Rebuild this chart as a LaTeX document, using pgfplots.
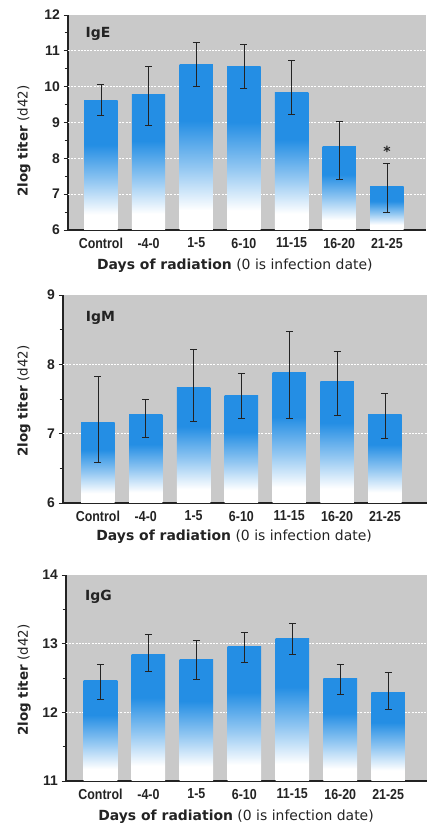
\documentclass[border=0pt]{standalone}
\usepackage{pgfplots}
\pgfplotsset{compat=1.18}
\usepackage{pgfplotstable}
\usepackage{fontspec}
\setmainfont{DejaVu Sans}
\newfontfamily\cond{Liberation Sans}[FakeStretch=0.86]
\newfontfamily\libs{Liberation Sans}

\definecolor{barblue}{RGB}{36,142,228}
\definecolor{bggray}{RGB}{201,201,201}
\definecolor{axdark}{RGB}{35,35,35}
\pgfdeclareverticalshading{barshade}{100bp}{color(0bp)=(white); color(31bp)=(white); color(44bp)=(barblue!50!white); color(58bp)=(barblue); color(100bp)=(barblue)}

\pgfplotstableread{
x y ep em
0 9.60 0.45 0.39
1 9.77 0.79 0.86
2 10.62 0.62 0.60
3 10.56 0.62 0.61
4 9.83 0.91 0.60
5 8.34 0.68 0.93
6 7.22 0.63 0.72
}\dataE
\pgfplotstableread{
x y ep em
0 7.165 0.655 0.58
1 7.283 0.212 0.339
2 7.67 0.546 0.491
3 7.552 0.311 0.335
4 7.877 0.597 0.66
5 7.75 0.438 0.481
6 7.278 0.297 0.348
}\dataM
\pgfplotstableread{
x y ep em
0 12.458 0.245 0.274
1 12.84 0.30 0.24
2 12.764 0.283 0.284
3 12.958 0.206 0.236
4 13.075 0.221 0.235
5 12.495 0.208 0.231
6 12.292 0.288 0.245
}\dataG

\newcommand{\xlab}{\fontsize{14}{14}\selectfont\textbf{Days of radiation} (0 is infection date)}
\newcommand{\ylab}{\fontsize{13.5}{13.5}\selectfont\textbf{2log titer} (d42)}

\pgfplotsset{
  panel/.style={
    scale only axis, anchor=south west,
    axis x line=bottom, axis y line=left,
    axis line style={-, line width=1.1bp, axdark},
    axis background/.style={fill=bggray},
    xtick={0,...,6},
    xticklabels={Control,-4-0,1-5,6-10,11-15,16-20,21-25},
    x tick style={draw=none},
    xticklabel style={font=\cond\bfseries\fontsize{14.5}{14.5}\selectfont, text=axdark},
    yticklabel style={font=\libs\bfseries\fontsize{14}{14}\selectfont, text=axdark},
    /pgf/number format/assume math mode=true,
    minor y tick num=1,
    tick align=outside, major tick length=4.5bp, minor tick length=3.5bp,
    y tick style={axdark, line width=0.9bp},
    major grid style={white, line width=1.1bp, dash pattern=on 2bp off 1.2bp},
    extra y tick style={grid=major, major tick length=0pt, yticklabel=\empty},
    xlabel={\xlab},
    xlabel style={text=axdark, anchor=center},
    ylabel={\ylab},
    ylabel style={text=axdark, anchor=center},
    clip=false,
  },
  bars/.style={ybar, bar shift=0pt, bar width=0.7, draw=none, shade, shading=barshade,
    restrict x to domain=#1:#1},
  errs/.style={draw=none, mark=none, forget plot,
    error bars/.cd, y dir=both, y explicit,
    error bar style={draw=axdark, line width=0.75bp},
    error mark options={rotate=90, draw=axdark, mark size=3.5bp, line width=0.75bp}},
}

\begin{document}
\begin{tikzpicture}
\path[use as bounding box] (0,0) rectangle (427bp,824bp);

% IgE
\begin{axis}[panel, at={(68bp,594bp)}, width=358bp, height=215bp,
  xmin=-0.69, xmax=6.82, ymin=6, ymax=12, ytick={6,...,12},
  extra y ticks={7,8,9,10,11},
  xlabel style={at={(axis description cs:0.466,-0.167)}},
  ylabel style={at={(axis description cs:-0.123,0.414)}}]
\pgfplotsinvokeforeach{0,...,6}{
  \addplot[bars=#1] table[x=x,y=y] {\dataE};
}
\addplot[errs] table[x=x,y=y,y error plus=ep,y error minus=em] {\dataE};
\node[font=\bfseries\fontsize{14}{14}\selectfont, text=axdark] at (axis description cs:0.084,0.912) {IgE};
\node[font=\bfseries\fontsize{14}{14}\selectfont, text=axdark] at (axis cs:6,8.19) {*};
\end{axis}

% IgM
\begin{axis}[panel, at={(63bp,321bp)}, width=364bp, height=208bp,
  xmin=-0.73, xmax=6.88, ymin=6, ymax=9, ytick={6,...,9},
  extra y ticks={7,8},
  xlabel style={at={(axis description cs:0.47,-0.163)}},
  ylabel style={at={(axis description cs:-0.107,0.49)}}]
\pgfplotsinvokeforeach{0,...,6}{
  \addplot[bars=#1] table[x=x,y=y] {\dataM};
}
\addplot[errs] table[x=x,y=y,y error plus=ep,y error minus=em] {\dataM};
\node[font=\bfseries\fontsize{14}{14}\selectfont, text=axdark] at (axis description cs:0.103,0.89) {IgM};
\end{axis}

% IgG
\begin{axis}[panel, at={(66bp,43bp)}, width=361bp, height=206bp,
  xmin=-0.72, xmax=6.81, ymin=11, ymax=14, ytick={11,...,14},
  extra y ticks={12,13},
  xlabel style={at={(axis description cs:0.471,-0.175)}},
  ylabel style={at={(axis description cs:-0.116,0.49)}}]
\pgfplotsinvokeforeach{0,...,6}{
  \addplot[bars=#1] table[x=x,y=y] {\dataG};
}
\addplot[errs] table[x=x,y=y,y error plus=ep,y error minus=em] {\dataG};
\node[font=\bfseries\fontsize{14}{14}\selectfont, text=axdark] at (axis description cs:0.09,0.893) {IgG};
\end{axis}
\end{tikzpicture}
\end{document}
